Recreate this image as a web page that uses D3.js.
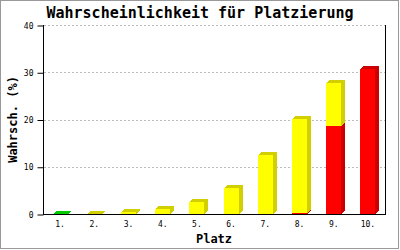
<!DOCTYPE html>
<html><head><meta charset="utf-8">
<script src="https://cdn.jsdelivr.net/npm/d3@7"></script>
<style>body{margin:0;background:#fff}svg{display:block}</style>
</head><body>
<script>
const categories = ["1.","2.","3.","4.","5.","6.","7.","8.","9.","10."];
const red    = [0,0,0,0,0,0,0,0.3,18.7,30.6];
const yellow = [0,0.1,0.4,1.1,2.6,5.6,12.4,19.8,9.1,0];
const green  = [0.1,0,0,0,0,0,0,0,0,0];
const yTicks = [0,10,20,30,40];
const seriesNames = ["red","yellow","green"];
const title = "Wahrscheinlichkeit für Platzierung";
const xTitle = "Platz";
const yTitle = "Wahrsch. (%)";

const colors = {red:["#ff0000","#cc0000"], yellow:["#ffff00","#d2cf00"], green:["#00ee00","#00cc00"]};
const W=400,H=250, L=43, R=385, T=25, B=214, dx=4, dy=3;
const mono = "'DejaVu Sans Mono', monospace";

const svg = d3.select("body").append("svg").attr("width",W).attr("height",H);
svg.append("rect").attr("x",0.5).attr("y",0.5).attr("width",398).attr("height",248)
  .attr("fill","#fff").attr("stroke","#999");

const x = d3.scaleBand().domain(categories).range([L,R]).paddingInner(0).paddingOuter(0);
const y = d3.scaleLinear().domain([0,40]).range([B,T]);

// grid
svg.append("g").selectAll("line").data(yTicks.filter(d=>d>0)).join("line")
  .attr("x1",L+1).attr("x2",R).attr("y1",d=>Math.round(y(d))+0.5).attr("y2",d=>Math.round(y(d))+0.5)
  .attr("stroke","#bbb").attr("stroke-dasharray","2,2");

// stacked data
const rows = categories.map((c,i)=>({cat:c, red:red[i], yellow:yellow[i], green:green[i]}));
const stack = d3.stack().keys(seriesNames)(rows);
const bw = 15;
const g = svg.append("g").attr("shape-rendering","crispEdges");
categories.forEach((c,i)=>{
  const cx = x(c)+x.bandwidth()/2;
  const x0 = Math.round(cx-bw/2), x1 = x0+bw;
  let topKey=null;
  stack.forEach(s=>{ if(s[i][1]-s[i][0]>0){topKey=s.key;} });
  stack.forEach(s=>{
    const v0=s[i][0], v1=s[i][1];
    if(v1-v0<=0) return;
    const [fc,dc]=colors[s.key];
    const yb=Math.round(y(v0)), yt=Math.round(y(v1));
    g.append("rect").attr("x",x0).attr("y",yt).attr("width",bw).attr("height",Math.max(0,yb-yt)).attr("fill",fc);
    g.append("path").attr("d",`M${x1},${yt}L${x1+dx},${yt-dy}L${x1+dx},${yb-dy}L${x1},${yb}Z`).attr("fill",dc);
    if(s.key===topKey){
      g.append("path").attr("d",`M${x0},${yt}L${x0+dx},${yt-dy}L${x1+dx},${yt-dy}L${x1},${yt}Z`).attr("fill",dc);
    }
  });
});

// axes
const ax = svg.append("g").attr("shape-rendering","crispEdges");
ax.append("line").attr("x1",L+0.5).attr("x2",L+0.5).attr("y1",T).attr("y2",B+1).attr("stroke","#000");
ax.append("line").attr("x1",R+0.5).attr("x2",R+0.5).attr("y1",T).attr("y2",B+1).attr("stroke","#000");
ax.append("line").attr("x1",L).attr("x2",R+1).attr("y1",B+0.5).attr("y2",B+0.5).attr("stroke","#000");

const yAxis = d3.axisLeft(y).tickValues(yTicks).tickSize(6).tickPadding(4);
const yg = svg.append("g").attr("transform",`translate(${L+0.5},0.5)`).call(yAxis);
yg.select(".domain").remove();
yg.selectAll("text").attr("font-family",mono).attr("font-size",8).attr("fill","#000");

const xAxis = d3.axisBottom(x).tickSize(0).tickPadding(7);
const xg = svg.append("g").attr("transform",`translate(0,${B})`).call(xAxis);
xg.select(".domain").remove();
xg.selectAll("text").attr("font-family",mono).attr("font-size",8).attr("fill","#000");

svg.append("text").attr("x",200).attr("y",18).attr("text-anchor","middle")
  .attr("font-family",mono).attr("font-weight","bold").attr("font-size",15).text(title);
svg.append("text").attr("x",(L+R)/2).attr("y",243).attr("text-anchor","middle")
  .attr("font-family",mono).attr("font-weight","bold").attr("font-size",12).text(xTitle);
svg.append("text").attr("transform",`translate(16.5,${(T+B)/2}) rotate(-90)`).attr("text-anchor","middle")
  .attr("font-family",mono).attr("font-weight","bold").attr("font-size",12).text(yTitle);
</script>
</body></html>
